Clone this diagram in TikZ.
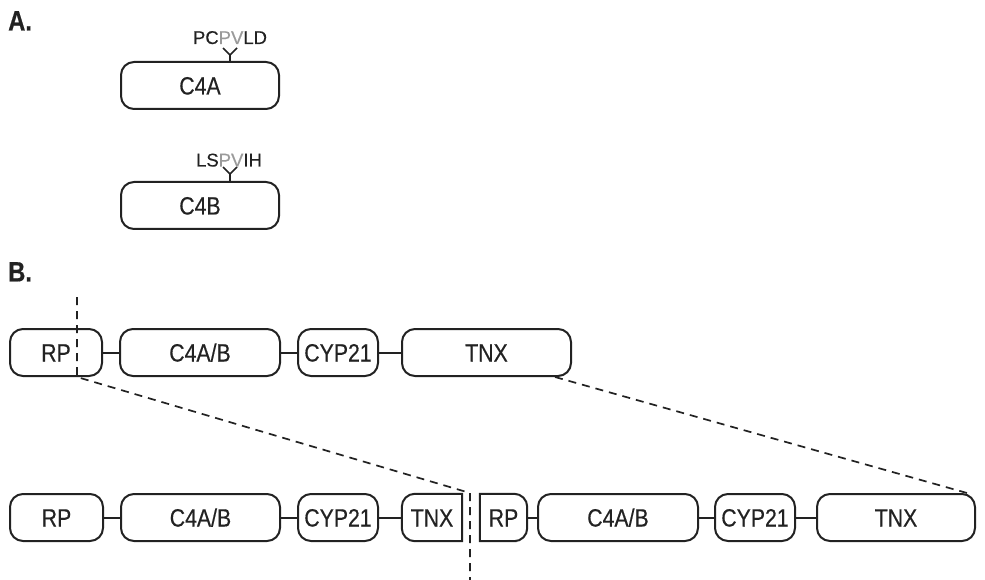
\documentclass[tikz,border=0pt]{standalone}
\usepackage{fontspec}
\setmainfont[FakeStretch=0.85, FakeBold=0.4]{Liberation Sans}
\newfontfamily\labfont[FakeBold=0.3]{Liberation Sans}
\definecolor{pvgray}{HTML}{9A9A9A}
\definecolor{ink}{HTML}{222222}
\tikzset{
  gbox/.style={draw=ink, line width=2pt, rounded corners=13pt, minimum height=47pt,
    inner sep=0pt, text height=18pt, text depth=0pt, font=\fontsize{25}{29}\selectfont, text=ink},
  gplain/.style={draw=none, minimum height=47pt, inner sep=0pt, text height=18pt, text depth=0pt,
    font=\fontsize{25}{29}\selectfont, text=ink},
  link/.style={draw=ink, line width=2pt},
  cutline/.style={draw=ink, line width=1.7pt, dash pattern=on 8pt off 6pt},
  yfork/.style={draw=ink, line width=1.7pt},
  seqlab/.style={anchor=base, inner sep=0pt, font=\labfont\fontsize{18.5}{21}\selectfont, text=ink},
  panel/.style={anchor=north west, inner sep=0pt, font=\bfseries\fontsize{28}{32}\selectfont, text=ink}
}
\begin{document}
\begin{tikzpicture}[x=1pt,y=-1pt]
\useasboundingbox (0,0) rectangle (985,580);

% Panel labels
\node[panel] (labA) at (8,11) {A.};
\node[panel] (labB) at (8,262) {B.};

% Panel A
\node[gbox, minimum width=158pt] (c4a) at (200,85.5) {C4A};
\node[gbox, minimum width=158pt] (c4b) at (200,205.5) {C4B};
\coordinate (ya) at (230,62);
\coordinate (yb) at (230,182);
\draw[yfork] (ya) -- ++(0,-7) coordinate (yaf) -- ++(-7,-7);
\draw[yfork] (yaf) -- ++(7,-7);
\draw[yfork] (yb) -- ++(0,-8) coordinate (ybf) -- ++(-7,-7);
\draw[yfork] (ybf) -- ++(7,-7);
\node[seqlab] (seqa) at (230,44) {PC\textcolor{pvgray}{PV}LD};
\node[seqlab] (seqb) at (229,166.5) {LS\textcolor{pvgray}{PV}IH};

% Panel B, row 1
\node[gbox, minimum width=92pt] (rp1) at (56,352.5) {RP};
\node[gbox, minimum width=160pt] (cab1) at (200,352.5) {C4A/B};
\node[gbox, minimum width=80pt] (cyp1) at (338,352.5) {CYP21};
\node[gbox, minimum width=169pt] (tnx1) at (486.5,352.5) {TNX};
\draw[link] (rp1) -- (cab1);
\draw[link] (cab1) -- (cyp1);
\draw[link] (cyp1) -- (tnx1);

% Panel B, row 2
\node[gbox, minimum width=93pt] (rp2) at (56.5,517.5) {RP};
\node[gbox, minimum width=159pt] (cab2) at (200.5,517.5) {C4A/B};
\node[gbox, minimum width=80pt] (cyp2) at (338,517.5) {CYP21};
\node[gplain, minimum width=60pt] (tnx2) at (432,517.5) {TNX};
\draw[draw=ink, line width=2pt, rounded corners=13pt]
  (tnx2.north) -- (tnx2.north west) -- (tnx2.south west) -- (tnx2.south)
  [sharp corners] -- (tnx2.south east) -- (tnx2.north east) -- cycle;
\node[gplain, minimum width=47pt] (rp3) at (503.5,517.5) {RP};
\draw[draw=ink, line width=2pt, rounded corners=13pt]
  (rp3.north) -- (rp3.north east) -- (rp3.south east) -- (rp3.south)
  [sharp corners] -- (rp3.south west) -- (rp3.north west) -- cycle;
\node[gbox, minimum width=160pt] (cab3) at (618,517.5) {C4A/B};
\node[gbox, minimum width=80pt] (cyp3) at (755,517.5) {CYP21};
\node[gbox, minimum width=158pt] (tnx3) at (896,517.5) {TNX};
\draw[link] (rp2) -- (cab2);
\draw[link] (cab2) -- (cyp2);
\draw[link] (cyp2) -- (tnx2);
\draw[link] (rp3) -- (cab3);
\draw[link] (cab3) -- (cyp3);
\draw[link] (cyp3) -- (tnx3);

% Cut lines
\coordinate (cutTop) at (77,297);
\coordinate (cutA) at (77,377);
\coordinate (cutB) at (470,493);
\coordinate (cutBot) at (470,580);
\coordinate (endA) at (555,377);
\coordinate (endB) at (967,493);
\draw[cutline] (cutTop) -- (cutA) -- (cutB) -- (cutBot);
\draw[cutline] (endA) -- (endB);
\end{tikzpicture}
\end{document}
